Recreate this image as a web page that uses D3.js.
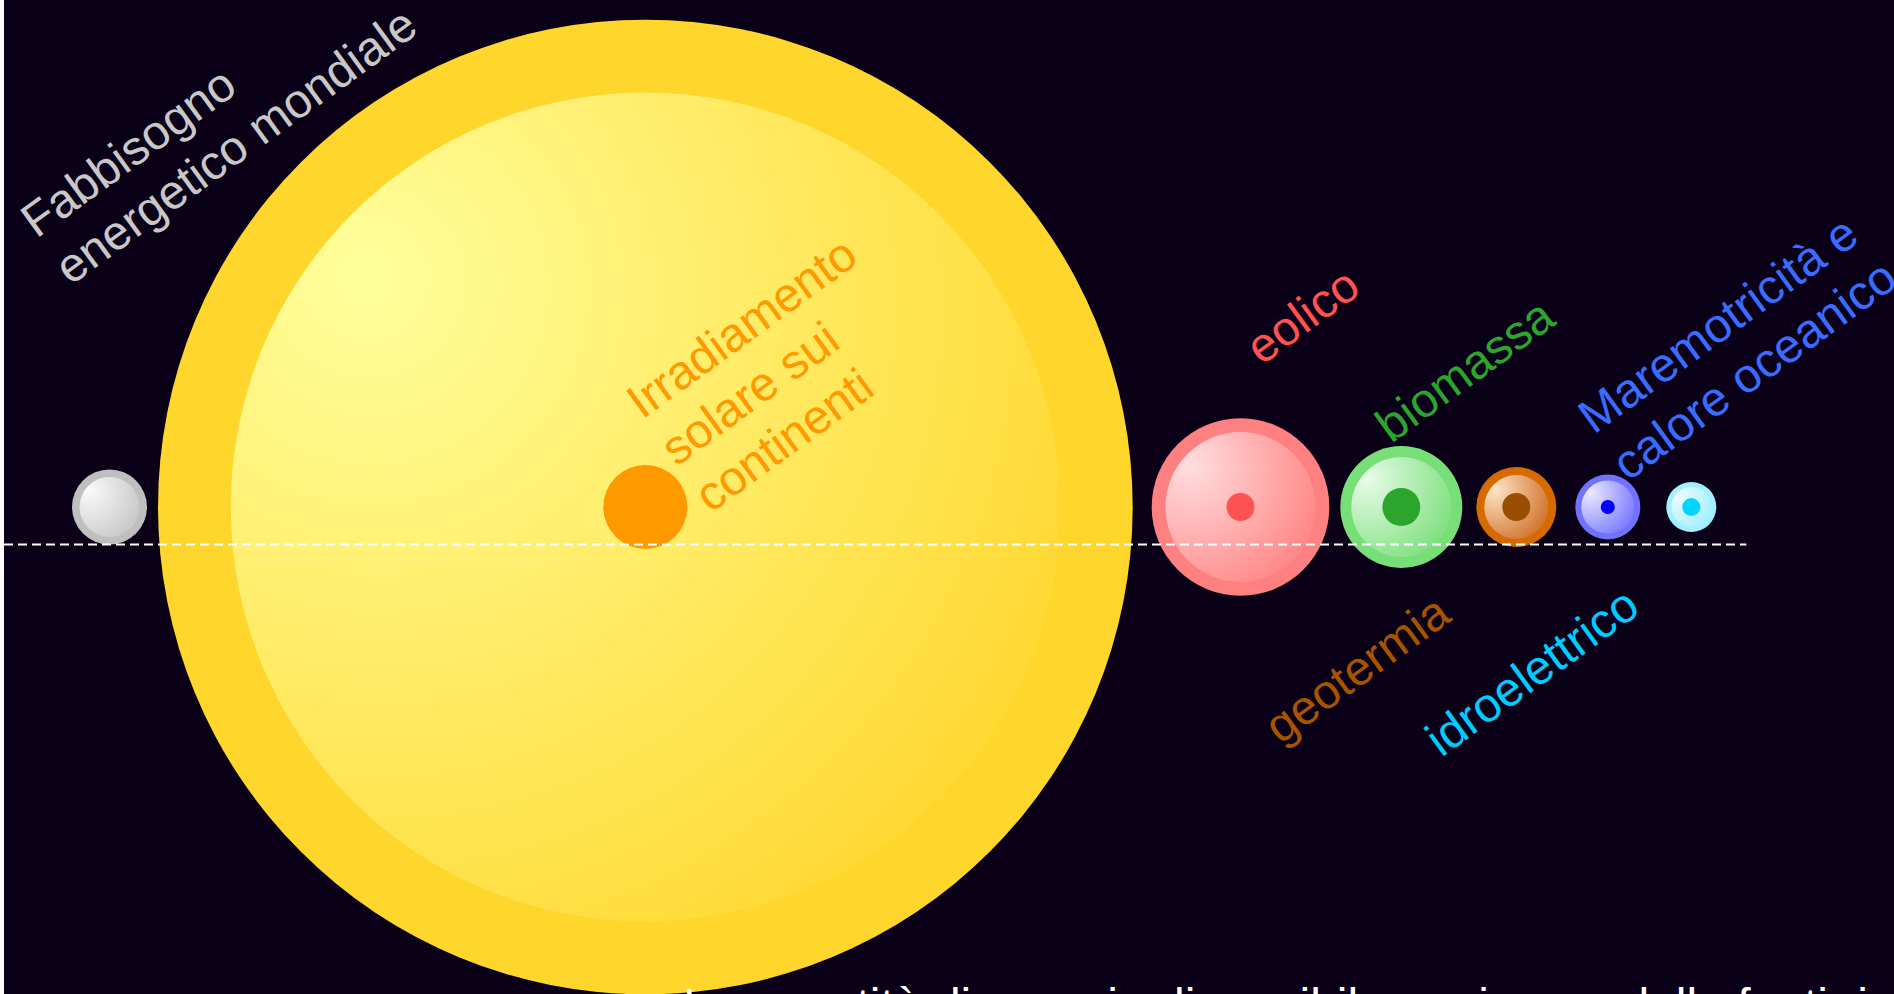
<!DOCTYPE html>
<html><head><meta charset="utf-8">
<script src="https://cdn.jsdelivr.net/npm/d3@7"></script>
<style>html,body{margin:0;padding:0;background:#ffffff;overflow:hidden}</style>
</head><body><svg id="c"></svg>
<script>
// ---- data (TW-like units, read from the circle areas) ----
const names = ["mondo", "sole", "eolico", "biomassa", "geotermia", "mare", "idro"];
const labelLines = [
  ["Fabbisogno", "energetico mondiale"],
  ["Irradiamento", "solare sui", "continenti"],
  ["eolico"],
  ["biomassa"],
  ["geotermia"],
  ["Maremotricità e", "calore oceanico"],
  ["idroelettrico"]
];
const maxValues  = [18, 3040, 101, 47.6, 20.5, 13.5, 8.0];
const minValues  = [11.5, 2200, 72, 32, 13.1, 9.0, 5.1];
const usedValues = [0, 22.6, 2.5, 4.6, 2.5, 0.63, 1.04];
const bottomTitle = "La quantità di energia disponibile ogni anno dalle fonti rinnovabili";

// ---- styles ----
const outerColors = ["#bfbfbf", "#ffd62b", "#ff8080", "#78de78", "#d46a00", "#7272ff", "#a2efff"];
const innerLight  = ["#fafafa", "#ffff9c", "#ffdede", "#e8fbe8", "#fde4c8", "#ececff", "#eefcff"];
const innerDark   = ["#c4c4c4", "#ffd62b", "#ff8080", "#78de78", "#cf6a20", "#7272ff", "#a2efff"];
const dotColors   = ["none", "#ff9900", "#ff5252", "#2ca52c", "#9a4e00", "#0000ff", "#00d4ff"];
const textColors  = ["#c8c8c8", "#ff9900", "#ff5252", "#2ca52c", "#a65400", "#3a6cff", "#00ccff"];

// ---- layout ----
const W = 1894, H = 994;
const cy = 507, startX = 72;
const gaps = [11, 19, 11, 14, 19, 26];
const labelOffsets = [[-73, -268], [-3, -87], [21, -141], [-10, -63], [-236, 238], [-14, -72], [-250, 251]];
const fontFamily = "'Liberation Sans', Arial, Helvetica, sans-serif";
const fontSize = 48, lineGap = 58;

const svg = d3.select("#c").attr("width", W).attr("height", H);
const defs = svg.append("defs");
svg.append("rect").attr("x", 4).attr("y", 0).attr("width", W - 4).attr("height", H).attr("fill", "#0a0018");

const r = d3.scaleSqrt().domain([0, maxValues[0]]).range([0, 37.5]);

const data = names.map((n, i) => ({name: n, i, max: maxValues[i], min: minValues[i], used: usedValues[i], lines: labelLines[i]}));
let cursor = startX;
data.forEach((d, k) => {
  d.r = r(d.max);
  d.cx = cursor + d.r;
  cursor += 2 * d.r + (gaps[k] || 0);
});

data.forEach(d => {
  const g = defs.append("radialGradient").attr("id", "g" + d.i)
    .attr("cx", "0.2").attr("cy", "0.28").attr("fx", "0.16").attr("fy", "0.22").attr("r", "0.95");
  g.append("stop").attr("offset", "0").attr("stop-color", innerLight[d.i]);
  g.append("stop").attr("offset", "1").attr("stop-color", innerDark[d.i]);
});

const nodes = svg.append("g").selectAll("g").data(data).join("g");
nodes.append("circle").attr("cx", d => d.cx).attr("cy", cy).attr("r", d => d.r).attr("fill", d => outerColors[d.i]);
nodes.append("circle").attr("cx", d => d.cx).attr("cy", cy).attr("r", d => r(d.min)).attr("fill", d => `url(#g${d.i})`);
nodes.filter(d => d.used > 0).append("circle").attr("cx", d => d.cx).attr("cy", cy).attr("r", d => r(d.used)).attr("fill", d => dotColors[d.i]);

// reference dashed line at the level of the world demand
const last = data[data.length - 1];
svg.append("line").attr("x1", 4).attr("x2", last.cx + last.r + 30)
  .attr("y1", cy + r(maxValues[0])).attr("y2", cy + r(maxValues[0]))
  .attr("stroke", "#ffffff").attr("stroke-width", 2).attr("stroke-dasharray", "9 5");

data.forEach(d => {
  const [dx, dy] = labelOffsets[d.i];
  const t = svg.append("text")
    .attr("transform", `translate(${d.cx + dx},${cy + dy}) rotate(-36)`)
    .attr("font-family", fontFamily).attr("font-size", fontSize)
    .attr("fill", textColors[d.i]);
  d.lines.forEach((l, k) => {
    t.append("tspan").attr("x", 0).attr("dy", k === 0 ? 0 : lineGap).text(l);
  });
});

svg.append("text").attr("x", 683).attr("y", 1022)
  .attr("font-family", fontFamily).attr("font-size", fontSize).attr("fill", "#ffffff")
  .text(bottomTitle);
</script>
</body></html>
